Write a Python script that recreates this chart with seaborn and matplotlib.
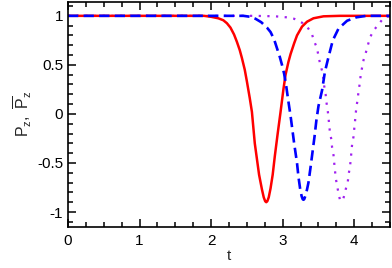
import matplotlib
matplotlib.use("Agg")
import matplotlib.pyplot as plt
from matplotlib.ticker import MultipleLocator
import seaborn as sns

# Kurven
t_red = [0.0, 1.9, 2.0, 2.1, 2.17, 2.22, 2.27, 2.32, 2.36, 2.40, 2.43, 2.47, 2.50,
         2.54, 2.57, 2.61, 2.64, 2.67, 2.71, 2.735, 2.755, 2.77, 2.785, 2.805, 2.83,
         2.86, 2.89, 2.93, 2.97, 3.01, 3.04, 3.08, 3.11, 3.16, 3.20, 3.27, 3.34,
         3.43, 3.57, 3.8, 4.5]
p_red = [1.0, 1.0, 0.99, 0.975, 0.955, 0.925, 0.88, 0.81, 0.735, 0.65, 0.57, 0.45,
         0.33, 0.16, 0.02, -0.30, -0.46, -0.62, -0.77, -0.85, -0.89, -0.90, -0.89,
         -0.85, -0.76, -0.62, -0.43, -0.20, 0.02, 0.25, 0.40, 0.53, 0.61, 0.72, 0.80,
         0.89, 0.94, 0.975, 0.995, 1.0, 1.0]

t_blue = [0.0, 2.45, 2.55, 2.62, 2.70, 2.78, 2.83, 2.88, 2.92, 2.96, 2.99, 3.02,
          3.05, 3.08, 3.11, 3.16, 3.20, 3.22, 3.245, 3.265, 3.28, 3.29, 3.30, 3.315,
          3.34, 3.36, 3.39, 3.42, 3.445, 3.47, 3.50, 3.55, 3.59, 3.64, 3.70, 3.78,
          3.90, 4.03, 4.17, 4.5]
p_blue = [1.0, 1.0, 0.99, 0.97, 0.935, 0.88, 0.835, 0.76, 0.67, 0.58, 0.50, 0.41,
          0.28, 0.125, -0.02, -0.30, -0.50, -0.64, -0.77, -0.84, -0.87, -0.875,
          -0.87, -0.84, -0.77, -0.70, -0.54, -0.37, -0.23, -0.07, 0.08, 0.24, 0.43,
          0.58, 0.75, 0.87, 0.95, 0.985, 1.0, 1.0]

t_purple = [0.0, 2.6, 2.9, 3.05, 3.16, 3.27, 3.35, 3.41, 3.44, 3.48, 3.50, 3.52,
            3.55, 3.57, 3.58, 3.60, 3.61, 3.63, 3.65, 3.66, 3.68, 3.69, 3.71, 3.72,
            3.73, 3.74, 3.76, 3.78, 3.80, 3.82, 3.845, 3.86, 3.88, 3.91, 3.92, 3.94,
            3.95, 3.96, 3.97, 3.99, 4.00, 4.01, 4.02, 4.03, 4.05, 4.06, 4.08, 4.09,
            4.11, 4.13, 4.16, 4.19, 4.22, 4.27, 4.33, 4.39, 4.45, 4.5]
p_purple = [1.0, 1.0, 0.995, 0.985, 0.97, 0.93, 0.88, 0.81, 0.74, 0.67, 0.59, 0.52,
            0.44, 0.36, 0.285, 0.20, 0.125, 0.03, -0.11, -0.19, -0.26, -0.34, -0.42,
            -0.50, -0.57, -0.65, -0.73, -0.81, -0.875, -0.89, -0.87, -0.83, -0.77,
            -0.69, -0.62, -0.54, -0.47, -0.39, -0.31, -0.23, -0.15, -0.08, 0.0, 0.07,
            0.16, 0.24, 0.32, 0.40, 0.475, 0.55, 0.62, 0.70, 0.78, 0.85, 0.905, 0.96,
            0.99, 0.995]

x_ticks = [0, 1, 2, 3, 4]
y_ticks = [-1, -0.5, 0, 0.5, 1]
y_ticklabels = ["-1", "-0.5", "0", "0.5", "1"]

sns.set_theme(style="ticks")
plt.rcParams["font.family"] = ["Liberation Sans", "DejaVu Sans"]
plt.rcParams["mathtext.fontset"] = "custom"
plt.rcParams["mathtext.rm"] = "Liberation Sans"
plt.rcParams["mathtext.it"] = "Liberation Sans"
plt.rcParams["axes.unicode_minus"] = False

fig = plt.figure(figsize=(3.92, 2.68), dpi=100)
ax = fig.add_axes([0.1735, 0.154, 0.8215, 0.84])

# violett zuerst, damit es auf der Geraden verdeckt wird
sns.lineplot(x=t_purple, y=p_purple, ax=ax, color="#a020f0", linewidth=1.6,
             linestyle=(0, (1, 2.9)), sort=False)
sns.lineplot(x=t_red, y=p_red, ax=ax, color="#ff0000", linewidth=1.8, sort=False)
sns.lineplot(x=t_blue, y=p_blue, ax=ax, color="#0000ff", linewidth=1.9,
             linestyle=(0, (3.9, 2.0)), sort=False)

ax.set_xlim(0, 4.5)
ax.set_ylim(-1.15, 1.145)
ax.set_xticks(x_ticks)
ax.set_xticklabels([str(v) for v in x_ticks])
ax.set_yticks(y_ticks)
ax.set_yticklabels(y_ticklabels)
ax.xaxis.set_minor_locator(MultipleLocator(0.25))
ax.yaxis.set_minor_locator(MultipleLocator(0.1))

ax.tick_params(which="both", direction="in", top=True, right=True,
               width=1.1, colors="black", labelsize=11)
ax.tick_params(which="major", length=6)
ax.tick_params(which="minor", length=3.3)
ax.tick_params(axis="x", which="major", pad=5)
ax.tick_params(axis="y", which="major", pad=3.5)

for s in ax.spines.values():
    s.set_linewidth(1.2)
    s.set_color("black")

ax.set_xlabel("t", fontsize=11, labelpad=1)
ax.set_ylabel(r"$\mathrm{P_z,\ \overline{P}_z}$", fontsize=11.5, labelpad=2)

fig.savefig("out.png", dpi=100)
